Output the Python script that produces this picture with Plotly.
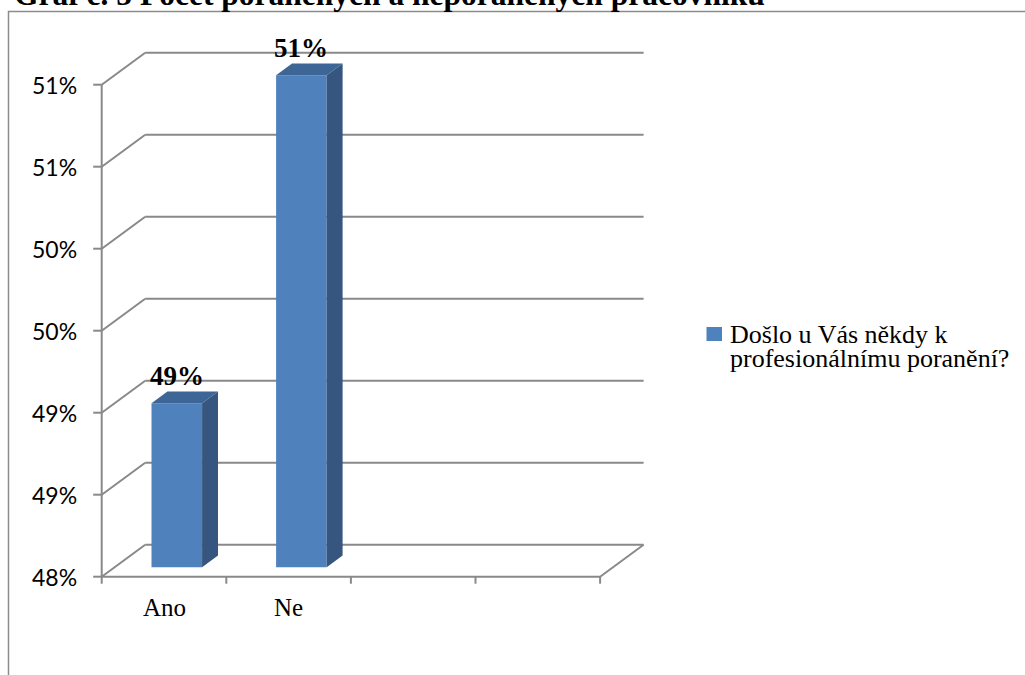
import plotly.graph_objects as go

# ---- data -----------------------------------------------------------------
categories = ["Ano", "Ne"]
values = [49, 51]                      # percent
value_labels = ["49%", "51%"]
series_lines = ["Došlo u Vás někdy k", "profesionálnímu poranění?"]
title_text = "Graf č. 5 Počet poraněných a neporaněných pracovníků"
y_ticks = [48, 48.5, 49, 49.5, 50, 50.5, 51]
y_tick_labels = ["48%", "49%", "49%", "50%", "50%", "51%", "51%"]
n_slots = 4                            # category slots on the floor

# ---- geometry of the pseudo-3D frame ----------------------------------------
W, H = 1025, 675
PX_PER_CAT = 124.6                     # pixels per category slot
PX_PER_PCT = 164.0                     # pixels per percentage point
ORIGIN_PX = (101.7, 576.7)             # where (x=-0.5, y=y_min) lands on screen

y_min, y_max = y_ticks[0], y_ticks[-1]
x_lo, x_hi = -0.5, n_slots - 0.5

x_range = [x_lo - ORIGIN_PX[0] / PX_PER_CAT, 0]
x_range[1] = x_range[0] + W / PX_PER_CAT
y_range = [y_min - (H - ORIGIN_PX[1]) / PX_PER_PCT, 0]
y_range[1] = y_range[0] + H / PX_PER_PCT

# full depth of the box, in axis units
DX = 43.5 / PX_PER_CAT
DY = 32.0 / PX_PER_PCT
# depth planes occupied by the columns (fractions of full depth)
F_FRONT, F_BACK = 0.294, 0.66
BAR_W = 0.406

GRID = "#898989"
FRONT = "#4F81BD"
SIDE = "#36567F"
TOP = "#3D6596"

shapes = []


def seg(x0, y0, x1, y1, layer="below"):
    shapes.append(dict(type="line", xref="x", yref="y", x0=x0, y0=y0, x1=x1, y1=y1,
                       line=dict(color=GRID, width=2), layer=layer))


# back wall gridlines + left wall diagonals
for t in y_ticks:
    seg(x_lo + DX, t + DY, x_hi + DX, t + DY)
    seg(x_lo, t, x_lo + DX, t + DY)
    # y tick mark
    seg(x_lo - 8.5 / PX_PER_CAT, t, x_lo, t)
# right edge of the floor
seg(x_hi, y_min, x_hi + DX, y_min + DY)
# front axes
seg(x_lo, y_min, x_lo, y_max)
seg(x_lo, y_min, x_hi, y_min)
for k in range(n_slots + 1):
    seg(x_lo + k, y_min, x_lo + k, y_min - 7 / PX_PER_PCT)

fig = go.Figure()

# front faces of the columns
xs_front = [i + F_FRONT * DX for i in range(len(categories))]
fig.add_trace(go.Bar(
    x=xs_front,
    y=[v - y_min for v in values],
    base=y_min + F_FRONT * DY,
    width=BAR_W,
    marker=dict(color=FRONT, line=dict(width=0)),
    name=" ".join(series_lines),
    showlegend=False,
    hoverinfo="skip",
))

# side and top faces
for i, v in enumerate(values):
    xr1 = i + BAR_W / 2 + F_FRONT * DX
    xr2 = i + BAR_W / 2 + F_BACK * DX
    xl1 = i - BAR_W / 2 + F_FRONT * DX
    xl2 = i - BAR_W / 2 + F_BACK * DX
    yb1, yb2 = y_min + F_FRONT * DY, y_min + F_BACK * DY
    yt1, yt2 = v + F_FRONT * DY, v + F_BACK * DY
    fig.add_trace(go.Scatter(
        x=[xr1, xr2, xr2, xr1, xr1], y=[yb1, yb2, yt2, yt1, yb1],
        fill="toself", fillcolor=SIDE, mode="lines", line=dict(width=0),
        showlegend=False, hoverinfo="skip"))
    fig.add_trace(go.Scatter(
        x=[xl1, xr1, xr2, xl2, xl1], y=[yt1, yt1, yt2, yt2, yt1],
        fill="toself", fillcolor=TOP, mode="lines", line=dict(width=0),
        showlegend=False, hoverinfo="skip"))

annotations = []
# y tick labels
for t, lab in zip(y_ticks, y_tick_labels):
    annotations.append(dict(x=x_lo, y=t, xref="x", yref="y", text=lab, showarrow=False,
                            xanchor="right", yanchor="middle", xshift=-23,
                            font=dict(family="Lato", size=23, color="black")))
# category labels
for i, c in enumerate(categories):
    annotations.append(dict(x=i, y=y_min, xref="x", yref="y", text=c, showarrow=False,
                            xanchor="center", yanchor="top", yshift=-15,
                            font=dict(family="Liberation Serif", size=25, color="black")))
# value labels above the columns
for i, (v, lab) in enumerate(zip(values, value_labels)):
    annotations.append(dict(x=i + F_FRONT * DX, y=v + F_BACK * DY, xref="x", yref="y",
                            text="<b>%s</b>" % lab, showarrow=False,
                            xanchor="center", yanchor="bottom", yshift=-1,
                            font=dict(family="Liberation Serif", size=27, color="black")))
# caption above the chart frame
annotations.append(dict(x=12 / W, y=1 - 14 / H, xref="paper", yref="paper",
                        text="<b>%s</b>" % title_text, showarrow=False,
                        xanchor="left", yanchor="bottom",
                        font=dict(family="Liberation Serif", size=31.5, color="black")))

# legend: colour key and the two-line series name
LEG_X, LEG_Y = 706.5, 327.0
LINE_STEP = 24
shapes.append(dict(type="rect", xref="paper", yref="paper",
                   x0=LEG_X / W, x1=(LEG_X + 15.5) / W,
                   y0=1 - (LEG_Y + 14) / H, y1=1 - LEG_Y / H,
                   line=dict(width=0), fillcolor=FRONT, layer="above"))
for k, line in enumerate(series_lines):
    annotations.append(dict(x=(LEG_X + 21) / W, y=1 - (LEG_Y + 7 + LINE_STEP * k) / H,
                            xref="paper", yref="paper", text=line, showarrow=False,
                            xanchor="left", yanchor="middle",
                            font=dict(family="Liberation Serif", size=26, color="black")))

# chart-area border (extends past the right and bottom edges)
shapes.append(dict(type="rect", xref="paper", yref="paper",
                   x0=8.5 / W, x1=1.05, y0=-0.05, y1=1 - 11.5 / H,
                   line=dict(color="#8c8c8c", width=1.5), fillcolor="rgba(0,0,0,0)",
                   layer="below"))

fig.update_layout(
    width=W, height=H,
    margin=dict(l=0, r=0, t=0, b=0),
    paper_bgcolor="white", plot_bgcolor="white",
    xaxis=dict(range=x_range, visible=False, domain=[0, 1], fixedrange=True),
    yaxis=dict(range=y_range, visible=False, domain=[0, 1], fixedrange=True),
    shapes=shapes,
    annotations=annotations,
    showlegend=False,
)

fig.write_html("out.html")
